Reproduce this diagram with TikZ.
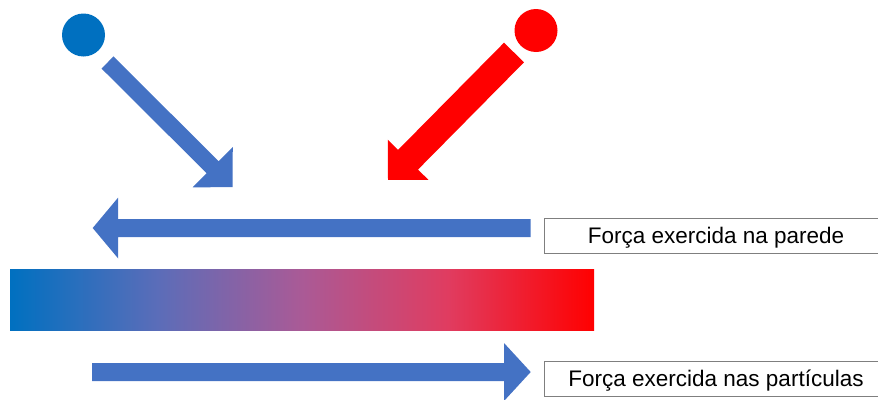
\documentclass[tikz,border=0pt]{standalone}
\usepackage{fontspec}
\setmainfont{Liberation Sans}
\usetikzlibrary{calc}

\definecolor{srcblue}{HTML}{0070C0}
\definecolor{arrowblue}{HTML}{4472C4}
\definecolor{hotred}{HTML}{FF0000}
\definecolor{boxline}{HTML}{7F7F7F}
\definecolor{gA}{HTML}{0070C0}
\definecolor{gB}{HTML}{5A6DB9}
\definecolor{gC}{HTML}{AA5A96}
\definecolor{gD}{HTML}{E03C60}
\definecolor{gE}{HTML}{FF0000}

% blue-to-red wall shading (the central 50bp band spans the shaded path)
\pgfdeclarehorizontalshading{wallshade}{100bp}{%
  color(0bp)=(gA); color(25bp)=(gA); color(37.5bp)=(gB); color(50bp)=(gC);
  color(62.5bp)=(gD); color(75bp)=(gE); color(100bp)=(gE)}

% block arrow from #1 (tail) to #2 (tip): half shaft, half head, head length, colour
\newcommand\blockarrow[6]{%
  \fill[#6] let \p1=($(#2)-(#1)$), \n1={atan2(\y1,\x1)}, \n2={veclen(\x1,\y1)} in
    [shift={(#1)}, rotate=\n1]
    (0,#3) -- ({\n2-#5},#3) -- ({\n2-#5},#4) -- (\n2,0)
    -- ({\n2-#5},-#4) -- ({\n2-#5},-#3) -- (0,-#3) -- cycle;}

\begin{document}
\begin{tikzpicture}[x=1pt,y=-1pt,
  source/.style={circle, inner sep=0pt, minimum size=43pt},
  labelbox/.style={draw=boxline, line width=0.9pt, fill=white, inner sep=0pt,
    minimum width=344pt, minimum height=35pt, text height=17pt, text depth=2pt,
    font=\fontsize{22.5}{27}\selectfont},
  wall/.style={inner sep=0pt, minimum width=584pt, minimum height=61pt, shading=wallshade}]
  \useasboundingbox (0,0) rectangle (878,399);

  % particle sources
  \node[source, fill=srcblue] (coldSrc) at (83.5,35) {};
  \node[source, fill=hotred] (hotSrc) at (536,30.5) {};

  % incoming particle paths
  \coordinate (coldTail) at (107.5,62.5);
  \coordinate (coldTip) at (232.5,187);
  \coordinate (hotTail) at (514,52.5);
  \coordinate (hotTip) at (388,180);
  \blockarrow{coldTail}{coldTip}{8.5}{28.5}{28}{arrowblue}
  \blockarrow{hotTail}{hotTip}{14}{28.5}{28.5}{hotred}

  % force on the wall
  \coordinate (wallForceTail) at (530.7,228);
  \coordinate (wallForceTip) at (92.7,228);
  \blockarrow{wallForceTail}{wallForceTip}{9}{30.5}{25.5}{arrowblue}

  % the wall
  \node[wall] (wall) at (302,299.5) {};

  % force on the particles
  \coordinate (partForceTail) at (92,372);
  \coordinate (partForceTip) at (530.7,372);
  \blockarrow{partForceTail}{partForceTip}{9}{29}{26.7}{arrowblue}

  % labels
  \begin{scope}
    \clip (0,0) rectangle (878,399);
    \node[labelbox] (wallLabel) at (716,235.5) {Força exercida na parede};
    \node[labelbox] (partLabel) at (716,378.5) {Força exercida nas partículas};
  \end{scope}
\end{tikzpicture}
\end{document}
